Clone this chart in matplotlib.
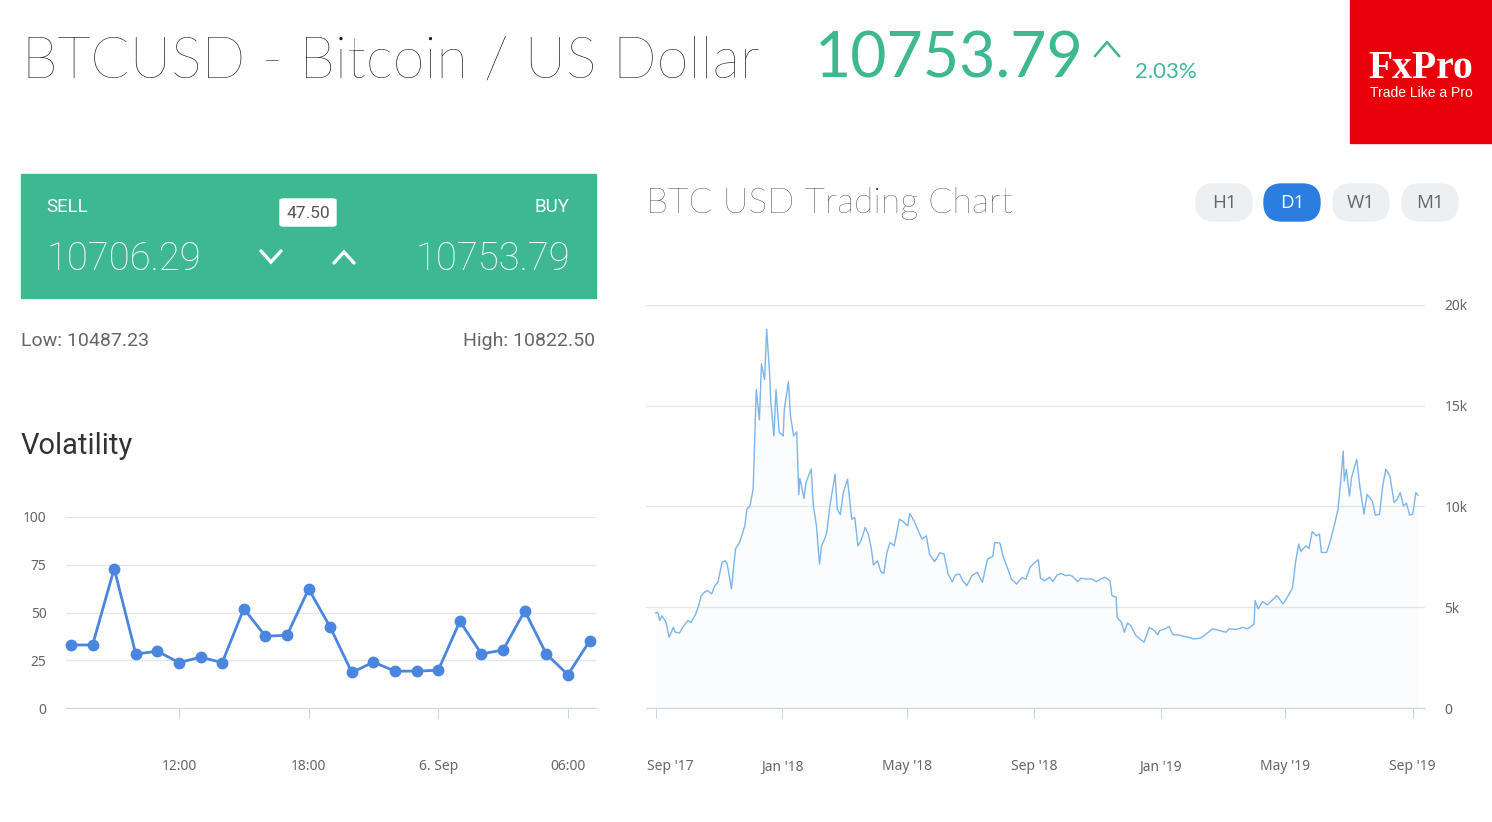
import matplotlib
matplotlib.use("Agg")
import matplotlib.pyplot as plt
import matplotlib.transforms as mtransforms
from matplotlib.patches import FancyBboxPatch, Rectangle
from datetime import datetime, timedelta

# ---------------- data ----------------
title_text = "BTCUSD - Bitcoin / US Dollar"
price_text = "10753.79"
change_text = "2.03%"
sell_price = "10706.29"
buy_price = "10753.79"
spread = "47.50"
low_text = "Low: 10487.23"
high_text = "High: 10822.50"
timeframes = ["H1", "D1", "W1", "M1"]
active_tf = "D1"

vol_start = "2019-09-05 07:00"
vol_values = [33, 33, 73, 28.3, 29.7, 23.8, 26.6, 23.8, 52, 37.6, 38.1, 62.3, 42.3,
              18.6, 24, 19.3, 19.3, 19.8, 45.4, 28.3, 30.4, 50.8, 28.3, 17.4, 35]
vol_ticks = ["2019-09-05 12:00", "2019-09-05 18:00", "2019-09-06 00:00", "2019-09-06 06:00"]
vol_tick_labels = ["12:00", "18:00", "6. Sep", "06:00"]
vol_yticks = [0, 25, 50, 75, 100]

btc_dates = [
    "2017-09-01", "2017-09-03", "2017-09-05", "2017-09-07", "2017-09-11", "2017-09-14", "2017-09-18",
    "2017-09-20", "2017-09-24", "2017-09-27", "2017-10-02", "2017-10-05", "2017-10-09", "2017-10-12",
    "2017-10-15", "2017-10-18", "2017-10-21", "2017-10-25", "2017-10-28", "2017-10-31", "2017-11-04",
    "2017-11-07", "2017-11-09", "2017-11-13", "2017-11-17", "2017-11-21", "2017-11-26", "2017-11-28",
    "2017-12-01", "2017-12-04", "2017-12-07", "2017-12-08", "2017-12-10", "2017-12-12", "2017-12-15",
    "2017-12-17", "2017-12-20", "2017-12-21", "2017-12-24", "2017-12-26", "2017-12-29", "2018-01-02",
    "2018-01-03", "2018-01-07", "2018-01-09", "2018-01-12", "2018-01-15", "2018-01-17", "2018-01-18",
    "2018-01-22", "2018-01-24", "2018-01-29", "2018-01-31", "2018-02-03", "2018-02-06", "2018-02-08",
    "2018-02-11", "2018-02-13", "2018-02-16", "2018-02-21", "2018-02-23", "2018-02-26", "2018-03-01",
    "2018-03-05", "2018-03-09", "2018-03-12", "2018-03-15", "2018-03-18", "2018-03-22", "2018-03-25",
    "2018-03-28", "2018-03-30", "2018-04-03", "2018-04-06", "2018-04-09", "2018-04-12", "2018-04-15",
    "2018-04-19", "2018-04-24", "2018-04-28", "2018-05-02", "2018-05-04", "2018-05-08", "2018-05-13",
    "2018-05-16", "2018-05-20", "2018-05-23", "2018-05-28", "2018-06-02", "2018-06-06", "2018-06-10",
    "2018-06-14", "2018-06-17", "2018-06-21", "2018-06-24", "2018-06-28", "2018-07-03", "2018-07-08",
    "2018-07-13", "2018-07-18", "2018-07-23", "2018-07-25", "2018-07-30", "2018-08-02", "2018-08-06",
    "2018-08-10", "2018-08-15", "2018-08-20", "2018-08-24", "2018-08-28", "2018-08-31", "2018-09-05",
    "2018-09-07", "2018-09-11", "2018-09-16", "2018-09-19", "2018-09-23", "2018-09-27", "2018-10-01",
    "2018-10-05", "2018-10-08", "2018-10-13", "2018-10-16", "2018-10-21", "2018-10-27", "2018-10-31",
    "2018-11-03", "2018-11-08", "2018-11-13", "2018-11-15", "2018-11-19", "2018-11-20", "2018-11-24",
    "2018-11-27", "2018-11-30", "2018-12-03", "2018-12-08", "2018-12-13", "2018-12-16", "2018-12-21",
    "2018-12-26", "2018-12-29", "2018-12-31", "2019-01-05", "2019-01-09", "2019-01-13", "2019-01-18",
    "2019-01-23", "2019-01-28", "2019-02-01", "2019-02-08", "2019-02-12", "2019-02-20", "2019-02-27",
    "2019-03-05", "2019-03-08", "2019-03-15", "2019-03-21", "2019-03-26", "2019-04-01", "2019-04-02",
    "2019-04-05", "2019-04-09", "2019-04-14", "2019-04-18", "2019-04-23", "2019-04-29", "2019-05-03",
    "2019-05-08", "2019-05-11", "2019-05-14", "2019-05-16", "2019-05-21", "2019-05-24", "2019-05-27",
    "2019-05-31", "2019-06-03", "2019-06-05", "2019-06-10", "2019-06-14", "2019-06-18", "2019-06-21",
    "2019-06-23", "2019-06-26", "2019-06-27", "2019-06-29", "2019-07-02", "2019-07-04", "2019-07-09",
    "2019-07-12", "2019-07-16", "2019-07-19", "2019-07-24", "2019-07-27", "2019-07-31", "2019-08-03",
    "2019-08-06", "2019-08-10", "2019-08-14", "2019-08-17", "2019-08-20", "2019-08-23", "2019-08-26",
    "2019-08-29", "2019-09-01", "2019-09-04", "2019-09-06"]
btc_values = [
    4720, 4750, 4340, 4580, 4250, 3510, 4000,
    3760, 3730, 4000, 4340, 4250, 4600, 5000,
    5580, 5740, 5830, 5660, 6070, 6240, 7230,
    7310, 7150, 5910, 7900, 8220, 9050, 9880,
    10040, 10870, 15800, 15300, 14300, 17070, 16300,
    18800, 16500, 15200, 13500, 15800, 13700, 13500,
    14800, 16200, 14500, 13500, 13700, 10600, 11400,
    10400, 11200, 11860, 10040, 9050, 7150, 8060,
    8400, 8720, 10040, 11600, 9870, 9600, 10700,
    11350, 9370, 9450, 8050, 8300, 8960, 8630,
    7900, 7100, 7300, 6770, 6680, 7720, 8220,
    8050, 9370, 9240, 9040, 9650, 9300, 8700,
    8380, 8550, 7640, 7260, 7700, 7640, 6650,
    6270, 6600, 6650, 6320, 6070, 6570, 6730,
    6240, 7390, 7520, 8220, 8180, 7520, 6980,
    6400, 6150, 6480, 6400, 6980, 7150, 7360,
    6440, 6320, 6490, 6270, 6600, 6680, 6570,
    6600, 6530, 6270, 6440, 6400, 6400, 6270,
    6370, 6490, 6320, 5580, 5500, 4500, 4260,
    3760, 4220, 4090, 3600, 3380, 3270, 4000,
    3840, 3630, 3840, 3930, 4040, 3630, 3630,
    3560, 3510, 3430, 3460, 3600, 3930, 3840,
    3760, 3930, 3900, 4000, 3930, 4170, 5330,
    4920, 5280, 5120, 5330, 5580, 5170, 5500,
    5940, 7230, 8140, 7760, 8050, 7920, 8750,
    8550, 8630, 7720, 7720, 8380, 9200, 9870,
    10940, 12760, 11270, 11850, 10530, 11440, 12340,
    11000, 9620, 10600, 10280, 9570, 9620, 11000,
    11850, 11520, 10200, 10360, 10690, 10030, 10170,
    9570, 9620, 10690, 10560]
btc_ticks = ["2017-09-01", "2018-01-01", "2018-05-01", "2018-09-01", "2019-01-01", "2019-05-01", "2019-09-01"]
btc_tick_labels = ["Sep '17", "Jan '18", "May '18", "Sep '18", "Jan '19", "May '19", "Sep '19"]
btc_yticks = [0, 5000, 10000, 15000, 20000]
btc_ytick_labels = ["0", "5k", "10k", "15k", "20k"]

# ---------------- layout helpers ----------------
W, H = 1492, 822
fig = plt.figure(figsize=(W / 100, H / 100), dpi=100)
fig.patch.set_facecolor("white")
plt.rcParams['font.family'] = ['Roboto', 'DejaVu Sans']

def fx(x):
    return x / W

def fy(y):
    return 1 - y / H

def add_ax_px(x0, y0, x1, y1):
    return fig.add_axes([fx(x0), fy(y1), (x1 - x0) / W, (y1 - y0) / H])

GREEN = "#3eb891"
GRAY_TXT = "#666666"
HEAD_FONT = ['Lato', 'DejaVu Sans']

# ---------------- header ----------------
fig.text(fx(22), fy(78), title_text, fontsize=41.5, family=HEAD_FONT,
         fontweight='light', color="#111111", ha='left', va='baseline')
fig.text(fx(815), fy(78), price_text, fontsize=45, family=HEAD_FONT,
         fontweight='normal', color=GREEN, ha='left', va='baseline')
fig.lines.append(plt.Line2D([fx(1095), fx(1107), fx(1119)], [fy(56), fy(42), fy(56)],
                            transform=fig.transFigure, color=GREEN, lw=1.8))
fig.text(fx(1135), fy(78), change_text, fontsize=16, family=HEAD_FONT,
         color=GREEN, ha='left', va='baseline')

# FxPro logo
fig.patches.append(Rectangle((fx(1350), fy(143)), (1492 - 1350) / W, 143 / H,
                             transform=fig.transFigure, color="#e8000b", zorder=0))
fig.text(fx(1421), fy(78), "FxPro", fontsize=28.5, family=['Liberation Serif', 'DejaVu Serif'],
         fontweight='bold', color='white', ha='center', va='baseline')
fig.text(fx(1421), fy(97), "Trade Like a Pro", fontsize=10, family=['Liberation Sans', 'DejaVu Sans'],
         color='white', ha='center', va='baseline')

# ---------------- sell / buy box ----------------
fig.patches.append(Rectangle((fx(21), fy(298)), (596 - 21) / W, (298 - 174) / H,
                             transform=fig.transFigure, color=GREEN, zorder=0))
fig.text(fx(46), fy(207), "SELL", fontsize=13.5, color='white', ha='left', va='center')
fig.text(fx(570), fy(207), "BUY", fontsize=13.5, color='white', ha='right', va='center')
fig.patches.append(FancyBboxPatch((fx(280), fy(226)), (336 - 280) / W, (226 - 199) / H,
                                  boxstyle="round,pad=0,rounding_size=0.002",
                                  transform=fig.transFigure, color='white', zorder=1))
fig.text(fx(308), fy(213), spread, fontsize=12.5, color="#555555", ha='center', va='center', zorder=2)
fig.text(fx(47), fy(270), sell_price, fontsize=27.5, fontweight='light', color='white',
         ha='left', va='baseline')
fig.text(fx(570), fy(270), buy_price, fontsize=27.5, fontweight='light', color='white',
         ha='right', va='baseline')
fig.lines.append(plt.Line2D([fx(261), fx(271), fx(281)], [fy(251), fy(262), fy(251)],
                            transform=fig.transFigure, color='white', lw=2.4,
                            solid_capstyle='round', solid_joinstyle='miter'))
fig.lines.append(plt.Line2D([fx(334), fx(344), fx(354)], [fy(263), fy(252), fy(263)],
                            transform=fig.transFigure, color='white', lw=2.4,
                            solid_capstyle='round', solid_joinstyle='miter'))

fig.text(fx(21), fy(341), low_text, fontsize=14, color=GRAY_TXT, ha='left', va='center')
fig.text(fx(595), fy(341), high_text, fontsize=14, color=GRAY_TXT, ha='right', va='center')

fig.text(fx(21), fy(446), "Volatility", fontsize=21, color="#333333", ha='left', va='center')

# ---------------- volatility chart ----------------
ax1 = add_ax_px(66, 517, 596, 708)
t0 = datetime.strptime(vol_start, "%Y-%m-%d %H:%M")
vol_times = [t0 + timedelta(hours=i) for i in range(len(vol_values))]
ax1.plot(vol_times, vol_values, color="#4a86df", lw=2.0, marker='o', markersize=7.5,
         clip_on=False, zorder=3)
ax1.set_ylim(0, 100)
ax1.set_xlim(t0 - timedelta(hours=0.23), t0 + timedelta(hours=24.3))
ax1.set_yticks(vol_yticks)
ax1.set_yticklabels([str(v) for v in vol_yticks])
ax1.set_xticks([datetime.strptime(s, "%Y-%m-%d %H:%M") for s in vol_ticks])
ax1.set_xticklabels(vol_tick_labels)
ax1.grid(axis='y', color="#e6e6e6", lw=1)
ax1.set_axisbelow(True)
for s in ['top', 'left', 'right']:
    ax1.spines[s].set_visible(False)
ax1.spines['bottom'].set_color("#ccd6eb")
ax1.tick_params(axis='x', length=7, color="#ccd6eb", labelcolor=GRAY_TXT, labelsize=10, pad=30)
ax1.tick_params(axis='y', length=0, labelcolor=GRAY_TXT, labelsize=10, pad=14)
for lab in ax1.get_xticklabels() + ax1.get_yticklabels():
    lab.set_family(['Noto Sans', 'DejaVu Sans'])

# ---------------- BTC chart ----------------
fig.text(fx(646), fy(203), "BTC USD Trading Chart", fontsize=25.7, family=HEAD_FONT,
         fontweight='light', color="#111111", ha='left', va='center')

pill_x = [1196, 1264, 1333, 1402]
for name, x0 in zip(timeframes, pill_x):
    active = name == active_tf
    fig.patches.append(FancyBboxPatch((fx(x0), fy(221)), 56 / W, 37 / H,
                                      boxstyle="round,pad=0,rounding_size=0.012",
                                      mutation_aspect=W / H,
                                      transform=fig.transFigure,
                                      color="#2b7de0" if active else "#edf0f3", zorder=1))
    fig.text(fx(x0 + 28), fy(203), name, fontsize=13.5, family=['Open Sans', 'DejaVu Sans'],
             color='white' if active else GRAY_TXT, ha='center', va='center', zorder=2)

ax2 = add_ax_px(646, 305, 1425, 708)
bd = [datetime.strptime(s, "%Y-%m-%d") for s in btc_dates]
ax2.fill_between(bd, btc_values, 0, color="#7cb5ec", alpha=0.035, lw=0)
ax2.plot(bd, btc_values, color="#7cb5ec", lw=1.0)
ax2.set_ylim(0, 20000)
ax2.set_xlim(datetime(2017, 8, 22, 16), datetime(2019, 9, 12, 20))
ax2.set_yticks(btc_yticks)
ax2.set_yticklabels(btc_ytick_labels)
ax2.yaxis.tick_right()
ax2.set_xticks([datetime.strptime(s, "%Y-%m-%d") for s in btc_ticks])
ax2.set_xticklabels(btc_tick_labels)
ax2.grid(axis='y', color="#e6e6e6", lw=1)
ax2.set_axisbelow(True)
for s in ['top', 'left', 'right']:
    ax2.spines[s].set_visible(False)
ax2.spines['bottom'].set_color("#ccd6eb")
ax2.tick_params(axis='x', length=7, color="#ccd6eb", labelcolor=GRAY_TXT, labelsize=10, pad=30)
ax2.tick_params(axis='y', length=0, labelcolor=GRAY_TXT, labelsize=10, pad=14)
for lab in ax2.get_xticklabels() + ax2.get_yticklabels():
    lab.set_family(['Noto Sans', 'DejaVu Sans'])
# first label is kept inside the plot, as in the reference
first = ax2.get_xticklabels()[0]
first.set_ha('left')
first.set_transform(first.get_transform() +
                    mtransforms.ScaledTranslation(-9 / 100, 0, fig.dpi_scale_trans))

fig.savefig("out.png", dpi=100, facecolor='white')
